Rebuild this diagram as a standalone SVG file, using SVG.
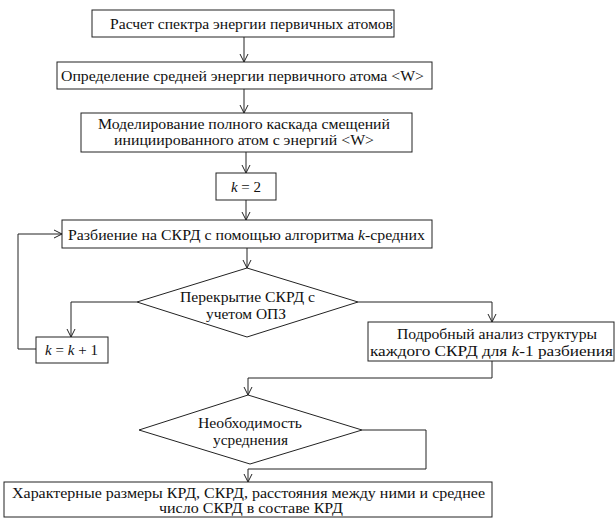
<svg xmlns="http://www.w3.org/2000/svg" width="615" height="518" viewBox="0 0 615 518">
<style>
.b{fill:#fff;stroke:#222;stroke-width:1}
.t{font-family:'Liberation Serif','DejaVu Serif','Times New Roman',serif;font-size:15px;fill:#111;text-anchor:middle}
.s{font-size:14.5px}
.c{fill:none;stroke:#222;stroke-width:1}
.i{font-style:italic}
</style>
<defs>
<marker id="a" markerUnits="userSpaceOnUse" markerWidth="10" markerHeight="10" refX="8" refY="4" orient="auto" viewBox="0 0 10 8">
<path d="M0,0 L8,4 L0,8" fill="none" stroke="#222" stroke-width="1"/>
</marker>
</defs>
<g id="connectors">
<path class="c" d="M244,37 V62" marker-end="url(#a)"/>
<path class="c" d="M244,89 V113" marker-end="url(#a)"/>
<path class="c" d="M246,152 V173" marker-end="url(#a)"/>
<path class="c" d="M246,200 V220" marker-end="url(#a)"/>
<path class="c" d="M247,248 V268" marker-end="url(#a)"/>
<path class="c" d="M137,302 H71 V337" marker-end="url(#a)"/>
<path class="c" d="M36,349 H18 V234 H62" marker-end="url(#a)"/>
<path class="c" d="M358,302 H492 V322" marker-end="url(#a)"/>
<path class="c" d="M492,361 V378 H248 V395" marker-end="url(#a)"/>
<path class="c" d="M362,430 H426 V469 H248 V482" marker-end="url(#a)"/>
</g>
<g id="n1"><rect class="b" x="92" y="10" width="302" height="27"/>
<text class="t" x="251.5" y="28.5" textLength="283" lengthAdjust="spacingAndGlyphs">Расчет спектра энергии первичных атомов</text></g>
<g id="n2"><rect class="b" x="57" y="62" width="375" height="27"/>
<text class="t" x="242.5" y="80.5" textLength="363" lengthAdjust="spacingAndGlyphs">Определение средней энергии первичного атома &lt;W&gt;</text></g>
<g id="n3"><rect class="b" x="81" y="113" width="331" height="39"/>
<text class="t s" x="244" y="129" textLength="292" lengthAdjust="spacingAndGlyphs">Моделирование полного каскада смещений</text>
<text class="t s" x="244" y="145" textLength="260" lengthAdjust="spacingAndGlyphs">инициированного атом с энергий &lt;W&gt;</text></g>
<g id="n4"><rect class="b" x="216" y="173" width="60" height="27"/>
<text class="t" x="246" y="191.5"><tspan class="i">k</tspan> = 2</text></g>
<g id="n5"><rect class="b" x="62" y="220" width="370" height="28"/>
<text class="t" x="246.5" y="239.5" textLength="357" lengthAdjust="spacingAndGlyphs">Разбиение на СКРД с помощью алгоритма <tspan class="i">k</tspan>-средних</text></g>
<g id="d1"><polygon class="b" points="247,268 358,302 247,337 137,302"/>
<text class="t" x="247.5" y="301.5" textLength="135" lengthAdjust="spacingAndGlyphs">Перекрытие СКРД с</text>
<text class="t" x="246" y="318.5" textLength="80" lengthAdjust="spacingAndGlyphs">учетом ОПЗ</text></g>
<g id="n6"><rect class="b" x="36" y="337" width="72" height="26"/>
<text class="t" x="71.5" y="355"><tspan class="i">k</tspan> = <tspan class="i">k</tspan> + 1</text></g>
<g id="n7"><rect class="b" x="368" y="322" width="246" height="39"/>
<text class="t" x="497" y="338.5" textLength="200" lengthAdjust="spacingAndGlyphs">Подробный анализ структуры</text>
<text class="t" x="491.5" y="356" textLength="243" lengthAdjust="spacingAndGlyphs">каждого СКРД для <tspan class="i">k</tspan>-1 разбиения</text></g>
<g id="d2"><polygon class="b" points="248,395 362,430 250,464 139,430"/>
<text class="t" x="250" y="427.5" textLength="104" lengthAdjust="spacingAndGlyphs">Необходимость</text>
<text class="t" x="250.5" y="444.5" textLength="75" lengthAdjust="spacingAndGlyphs">усреднения</text></g>
<g id="n8"><rect class="b" x="4" y="482" width="488" height="35"/>
<text class="t s" x="248.5" y="498" textLength="473" lengthAdjust="spacingAndGlyphs">Характерные размеры КРД, СКРД, расстояния между ними и среднее</text>
<text class="t s" x="251" y="513" textLength="184" lengthAdjust="spacingAndGlyphs">число СКРД в составе КРД</text></g>
</svg>
